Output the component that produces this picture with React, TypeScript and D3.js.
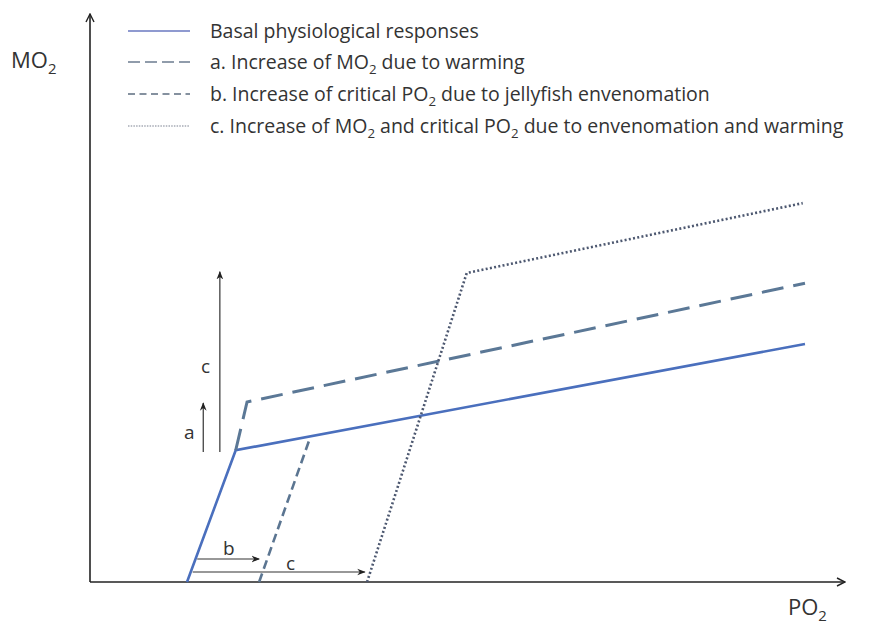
import React from "react";
import * as d3 from "d3";

type P = [number, number];

// Curves (PO2, MO2) in arbitrary units
const basal: P[] = [[12.85, 0], [19.3, 23.2], [94.7, 41.9]];
const warming: P[] = [[19.3, 23.2], [20.8, 31.7], [94.7, 52.6]];
const envenom: P[] = [[22.4, 0], [29.1, 25.2]];
const both: P[] = [[36.7, 0], [49.9, 54.4], [94.4, 66.7]];

// Annotation arrows
const arrowC_v = { from: [17.2, 22.9] as P, to: [17.2, 54.6] as P, label: "c" };
const arrowA_v = { from: [15.0, 22.9] as P, to: [15.0, 31.5] as P, label: "a" };
const arrowB_h = { from: [14.2, 4.05] as P, to: [22.4, 4.05] as P, label: "b" };
const arrowC_h = { from: [13.6, 1.76] as P, to: [36.4, 1.76] as P, label: "c" };

const legendLabels = [
  "Basal physiological responses",
  "a. Increase of MO|2| due to warming",
  "b. Increase of critical PO|2| due to jellyfish envenomation",
  "c. Increase of MO|2| and critical PO|2| due to envenomation and warming",
];

const W = 871;
const H = 626;
const FONT = "'Open Sans', Lato, sans-serif";

const x = d3.scaleLinear().domain([0, 100]).range([90, 845]);
const y = d3.scaleLinear().domain([0, 100]).range([582, 14]);
const line = d3.line<P>().x((d) => x(d[0])).y((d) => y(d[1]));

function Sub({ text, size, ...rest }: any) {
  const parts = text.split("|");
  return (
    <text {...rest} fontSize={size} fontFamily={FONT} fill="#333">
      {parts.map((p: string, i: number) =>
        i % 2 === 1 ? (
          <tspan key={i} fontSize={size * 0.68} dy={size * 0.28}>
            {p}
          </tspan>
        ) : (
          <tspan key={i} dy={i > 0 ? -size * 0.28 : 0}>
            {p}
          </tspan>
        )
      )}
    </text>
  );
}

const styles = [
  { stroke: "#4a6fbd", width: 2.6, dash: "" },
  { stroke: "#5b7896", width: 3, dash: "22 10" },
  { stroke: "#5b7591", width: 2.6, dash: "9 5" },
  { stroke: "#4d5870", width: 2.6, dash: "2 2.3" },
];
const legendStyles = [
  { stroke: "#6a78c0", width: 1.5, dash: "" },
  { stroke: "#6c7c90", width: 1.5, dash: "12 5" },
  { stroke: "#5e6e80", width: 1.5, dash: "7 4.5" },
  { stroke: "#7a8090", width: 1.2, dash: "1.5 1.2" },
];

export default function App() {
  const series = [basal, warming, envenom, both];
  const arrows = [arrowC_v, arrowA_v, arrowB_h, arrowC_h];
  const labelPos: P[] = [[201, 373], [184, 439], [223, 555], [286, 570]];
  const legendY = [31, 62, 94, 126];
  return (
    <svg width={W} height={H} style={{ position: "absolute", left: 0, top: 0 }}>
      <defs>
        <marker id="ah" viewBox="0 0 10 10" refX="9" refY="5" markerWidth="7" markerHeight="7" orient="auto">
          <path d="M0,1 L10,5 L0,9 L3,5 Z" fill="#222" />
        </marker>
        <marker id="axh" viewBox="0 0 10 10" refX="9" refY="5" markerWidth="10" markerHeight="10" orient="auto" markerUnits="userSpaceOnUse">
          <path d="M1,1 L9,5 L1,9" fill="none" stroke="#222" strokeWidth="1.4" />
        </marker>
      </defs>
      <rect width={W} height={H} fill="#fff" />
      {/* axes */}
      <line x1={x(0)} y1={y(0)} x2={x(0)} y2={y(100)} stroke="#222" strokeWidth={1.6} markerEnd="url(#axh)" />
      <line x1={x(0)} y1={y(0)} x2={x(100)} y2={y(0)} stroke="#222" strokeWidth={1.6} markerEnd="url(#axh)" />
      <Sub text="MO|2|" size={22} x={11} y={68} />
      <Sub text="PO|2|" size={22} x={788} y={615} />
      {/* series */}
      {series.map((s, i) => (
        <path
          key={i}
          d={line(s) || ""}
          fill="none"
          stroke={styles[i].stroke}
          strokeWidth={styles[i].width}
          strokeDasharray={styles[i].dash || undefined}
        />
      ))}
      {/* annotation arrows */}
      {arrows.map((a, i) => (
        <line
          key={i}
          x1={x(a.from[0])}
          y1={y(a.from[1])}
          x2={x(a.to[0])}
          y2={y(a.to[1])}
          stroke="#333"
          strokeWidth={1.2}
          markerEnd="url(#ah)"
        />
      ))}
      {arrows.map((a, i) => (
        <text key={"l" + i} x={labelPos[i][0]} y={labelPos[i][1]} fontSize={19} fontFamily={FONT} fill="#333">
          {a.label}
        </text>
      ))}
      {/* legend */}
      {legendLabels.map((t, i) => (
        <g key={i}>
          <line
            x1={128}
            x2={190}
            y1={legendY[i]}
            y2={legendY[i]}
            stroke={legendStyles[i].stroke}
            strokeWidth={legendStyles[i].width}
            strokeDasharray={legendStyles[i].dash || undefined}
          />
          <Sub text={t} size={19.5} x={210} y={legendY[i] + 6.5} />
        </g>
      ))}
    </svg>
  );
}
